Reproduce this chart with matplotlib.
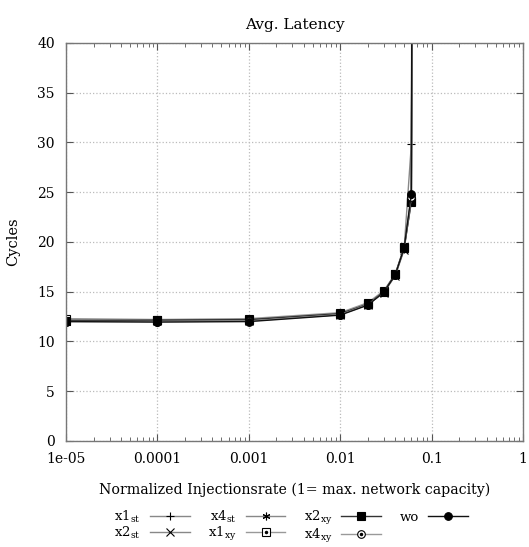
import matplotlib
matplotlib.use("Agg")
import matplotlib.pyplot as plt
from matplotlib.ticker import FixedLocator, LogLocator, NullFormatter
from matplotlib.legend_handler import HandlerTuple

plt.rcParams['font.family'] = ['DejaVu Serif']
plt.rcParams['mathtext.fontset'] = 'dejavuserif'

# injection rates (normalized) and avg. latency per configuration
rates = [1e-5, 1e-4, 1e-3, 0.01, 0.02, 0.03, 0.04, 0.05, 0.06, 0.07]
x1_st = [12.2, 12.1, 12.2, 12.8, 13.8, 15.0, 16.7, 19.3, 29.8, 250.0]
x2_st = [12.1, 12.1, 12.1, 12.7, 13.7, 14.9, 16.6, 19.2, 24.3, 220.0]
x4_st = [12.2, 12.2, 12.2, 12.8, 13.8, 15.0, 16.7, 19.4, 24.6, 230.0]
x1_xy = [12.3, 12.2, 12.3, 12.9, 13.9, 15.1, 16.8, 19.5, 24.0, 210.0]
x2_xy = [12.1, 12.15, 12.2, 12.8, 13.75, 15.0, 16.75, 19.35, 24.1, 200.0]
x4_xy = [12.0, 12.0, 12.05, 12.7, 13.7, 14.95, 16.7, 19.4, 24.5, 240.0]
wo = [12.0, 11.95, 12.0, 12.65, 13.65, 14.95, 16.7, 19.4, 24.8, 260.0]

# label, values, marker, face, line colour, dot in the middle
series = [
    (r'x1$_{\rm st}$', x1_st, '+', 'none', '#888888', False),
    (r'x2$_{\rm st}$', x2_st, 'x', 'none', '#888888', False),
    (r'x4$_{\rm st}$', x4_st, (6, 2, 0), 'none', '#888888', False),
    (r'x1$_{\rm xy}$', x1_xy, 's', 'white', '#999999', True),
    (r'x2$_{\rm xy}$', x2_xy, 's', 'black', '#333333', False),
    (r'x4$_{\rm xy}$', x4_xy, 'o', 'white', '#999999', True),
    (r'wo', wo, 'o', 'black', '#111111', False),
]

fig = plt.figure(figsize=(5.29, 5.47), dpi=100)
ax = fig.add_axes([0.1248, 0.1938, 0.8639, 0.7276])

handles = []
labels = []
for label, vals, mk, fc, lc, dot in series:
    h, = ax.plot(rates, vals, color=lc, lw=1.0, marker=mk, markersize=5.5,
                 markerfacecolor=fc, markeredgecolor='black',
                 markeredgewidth=0.8)
    if dot:
        d, = ax.plot(rates, vals, ls='none', marker='o', markersize=1.5,
                     color='black')
        handles.append((h, d))
    else:
        handles.append(h)
    labels.append(label)

ax.set_xscale('log')
ax.set_xlim(1e-5, 1)
ax.set_ylim(0, 40)
ax.yaxis.set_major_locator(FixedLocator(range(0, 41, 5)))
ax.set_xticks([1e-5, 1e-4, 1e-3, 1e-2, 0.1, 1])
ax.set_xticklabels(['1e-05', '0.0001', '0.001', '0.01', '0.1', '1'])
ax.xaxis.set_minor_locator(LogLocator(base=10, subs=range(2, 10)))
ax.xaxis.set_minor_formatter(NullFormatter())

ax.tick_params(which='both', direction='in', top=True, right=True,
               labelsize=10, color='#555555', pad=8)
ax.tick_params(which='major', length=5)
ax.tick_params(which='minor', length=3)
ax.grid(True, which='major', linestyle=':', color='#bbbbbb', linewidth=0.9)
for s in ax.spines.values():
    s.set_color('#777777')
    s.set_linewidth(1.0)

ax.set_title('Avg. Latency', fontsize=11, pad=10)
ax.set_xlabel('Normalized Injectionsrate (1= max. network capacity)',
              fontsize=10.2, labelpad=12)
ax.set_ylabel('Cycles', fontsize=10.5, labelpad=12)

fig.legend(handles, labels, loc='upper center',
           bbox_to_anchor=(0.55, 1 - 501 / 547), ncol=4,
           frameon=False, markerfirst=False, fontsize=9.5,
           handlelength=3.0, columnspacing=1.4, labelspacing=0.0,
           handletextpad=0.7, borderpad=0.1,
           handler_map={tuple: HandlerTuple(ndivide=1, pad=0)})

fig.savefig('out.png', dpi=100)
